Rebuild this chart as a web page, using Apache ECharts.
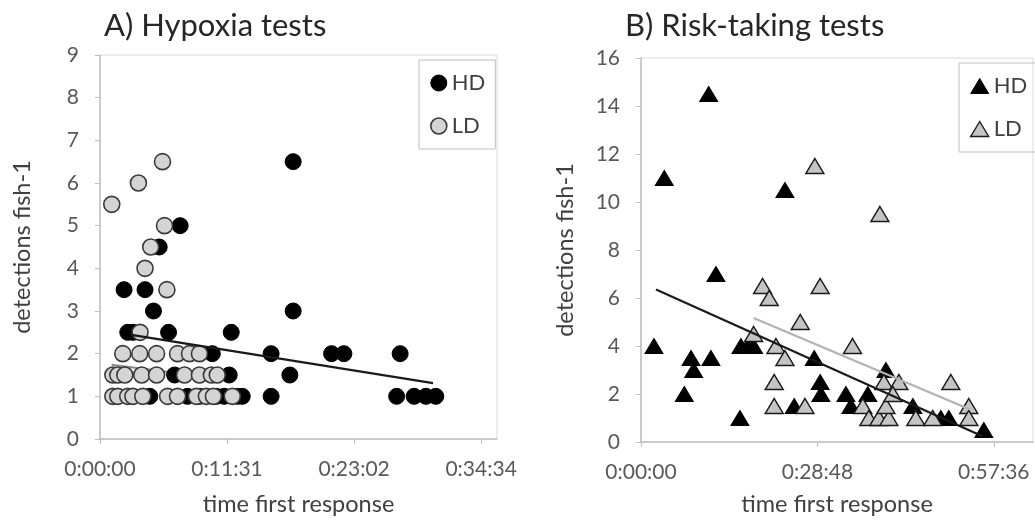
<!DOCTYPE html>
<html><head><meta charset="utf-8">
<script src="https://cdn.jsdelivr.net/npm/echarts@6/dist/echarts.min.js"></script>
<style>html,body{margin:0;padding:0;background:#fff}#c{width:1035px;height:521px}</style>
</head><body><div id="c"></div>
<script>
// time in seconds, detections per fish
const hypoxiaHD = [[1051,6.5],[1051,3],[1033,1.5],[931,2],[931,1],[714,2.5],[436,5],[322,4.5],[131,3.5],[245,3.5],[291,3],[373,2.5],[151,2.5],[180,2.5],[1260,2],[1327,2],[1633,2],[1614,1],[1709,1],[1773,1],[1827,1],[611,2],[406,1.5],[703,1.5],[271,1],[476,1],[541,1],[633,1],[676,1],[747,1],[774,1]];
const hypoxiaLD = [[64,5.5],[209,6],[340,6.5],[351,5],[276,4.5],[245,4],[364,3.5],[218,2.5],[124,2],[216,2],[308,2],[422,2],[487,2],[541,2],[70,1.5],[97,1.5],[135,1.5],[227,1.5],[308,1.5],[460,1.5],[541,1.5],[606,1.5],[638,1.5],[70,1],[97,1],[151,1],[179,1],[233,1],[368,1],[422,1],[525,1],[579,1],[617,1],[720,1]];
const riskHD = [[663,14.5],[228,11],[1410,10.5],[734,7],[127,4],[490,3.5],[516,3],[685,3.5],[424,2],[969,1],[979,4],[1045,4],[1103,4],[1697,3.5],[1755,2.5],[1762,2],[1501,1.5],[2007,2],[2056,1.5],[2222,2],[2399,3],[2663,1.5],[2937,1],[3015,1],[3358,0.5]];
const riskLD = [[1703,11.5],[2340,9.5],[1755,6.5],[1191,6.5],[1256,6],[1560,5],[2072,4],[1103,4.5],[1322,4],[1410,3.5],[1305,2.5],[1305,1.5],[1606,1.5],[2173,1.5],[2232,1],[2330,1],[2428,1],[2399,1.5],[2379,2.5],[2526,2.5],[2467,2],[2692,1],[2858,1],[3035,2.5],[3211,1.5],[3211,1]];
const trendHypoxiaHD = [[171,2.44],[1812,1.31]];
const trendHypoxiaLD = [[63,1.74],[720,1.38]];
const trendRiskHD = [[147,6.35],[3345,0.24]];
const trendRiskLD = [[1103,5.17],[3224,1.35]];
const titles = ['A) Hypoxia tests','B) Risk-taking tests'];
const groups = ['HD','LD'];
const xName = 'time first response';
const yName = 'detections fish-1';

const FONT = 'Lato';
const pad = n => (n < 10 ? '0' : '') + n;
function fmt(interval){
  return function(v){
    const k = v / interval;
    if (Math.abs(k - Math.round(k)) > 1e-6) return '';
    const s = Math.round(v);
    return Math.floor(s/3600) + ':' + pad(Math.floor(s%3600/60)) + ':' + pad(s%60);
  };
}
const hdStyle = {color:'#000', borderColor:'#000', borderWidth:1, opacity:1};
const ldStyle = {color:'#d4d4d4', borderColor:'#3a3a3a', borderWidth:1.6, opacity:1};
const ldTriStyle = {color:'#c4c4c4', borderColor:'#1a1a1a', borderWidth:1.4, opacity:1};

function xAxis(gi, max, interval, gap){
  return {type:'value', gridIndex:gi, min:0, max:max, interval:interval,
    name:xName, nameLocation:'middle', nameGap:gap,
    nameTextStyle:{fontFamily:FONT, fontSize:23.5, color:'#404040'},
    axisLine:{show:true, lineStyle:{color:'#bfbfbf', width:1.5}},
    axisTick:{show:true, length:5, lineStyle:{color:'#bfbfbf'}},
    splitLine:{show:false},
    axisLabel:{formatter:fmt(interval), margin:20, fontFamily:FONT, fontSize:21, color:'#595959', showMaxLabel:false}};
}
function yAxis(gi, max, interval, gap){
  return {type:'value', gridIndex:gi, min:0, max:max, interval:interval,
    name:yName, nameLocation:'middle', nameGap:gap, nameRotate:90,
    nameTextStyle:{fontFamily:FONT, fontSize:23.5, color:'#404040'},
    axisLine:{show:true, lineStyle:{color:'#bfbfbf', width:1.5}},
    axisTick:{show:true, length:5, lineStyle:{color:'#bfbfbf'}},
    splitLine:{show:false},
    axisLabel:{margin:21, fontFamily:FONT, fontSize:21, color:'#595959'}};
}
function trend(data, gi, color, z){
  return {type:'line', xAxisIndex:gi, yAxisIndex:gi, data:data, symbol:'none', silent:true,
    lineStyle:{color:color, width:2.2}, z:z};
}

const chart = echarts.init(document.getElementById('c'), null, {renderer:'canvas'});
chart.setOption({
  animation:false,
  backgroundColor:'#fff',
  title:[
    {text:titles[0], left:99, top:5, textStyle:{fontFamily:FONT, fontSize:31, fontWeight:'normal', color:'#262626'}},
    {text:titles[1], left:620, top:5, textStyle:{fontFamily:FONT, fontSize:31, fontWeight:'normal', color:'#262626'}}
  ],
  grid:[
    {left:100, top:55, width:397, height:384, show:true, borderColor:'#d9d9d9', borderWidth:1},
    {left:641, top:58, width:392, height:384, show:true, borderColor:'#d9d9d9', borderWidth:1}
  ],
  xAxis:[xAxis(0, 2160, 691.2, 53), xAxis(1, 3840, 1728, 50)],
  yAxis:[yAxis(0, 9, 1, 66), yAxis(1, 16, 2, 64)],
  legend:[
    {left:419, top:60, orient:'vertical', padding:[12,10,12,11], itemGap:21, itemWidth:16, itemHeight:16,
     borderColor:'#bfbfbf', borderWidth:1, selectedMode:false,
     textStyle:{fontFamily:FONT, fontSize:22, color:'#404040'},
     data:[{name:groups[0], icon:'circle', itemStyle:hdStyle},{name:groups[1], icon:'circle', itemStyle:ldStyle}]},
    {left:959, top:63, orient:'vertical', padding:[12,10,12,11], itemGap:21, itemWidth:18, itemHeight:15,
     borderColor:'#bfbfbf', borderWidth:1, selectedMode:false,
     textStyle:{fontFamily:FONT, fontSize:22, color:'#404040'},
     data:[{name:groups[0], icon:'triangle', itemStyle:hdStyle},{name:groups[1], icon:'triangle', itemStyle:ldTriStyle}]}
  ],
  series:[
    {name:groups[0], type:'scatter', xAxisIndex:0, yAxisIndex:0, data:hypoxiaHD, symbol:'circle', symbolSize:16, itemStyle:hdStyle, z:2},
    trend(trendHypoxiaLD, 0, '#8c8c8c', 2),
    {name:groups[1], type:'scatter', xAxisIndex:0, yAxisIndex:0, data:hypoxiaLD, symbol:'circle', symbolSize:16, itemStyle:ldStyle, z:3},
    trend(trendHypoxiaHD, 0, '#1a1a1a', 5),
    {name:groups[0], type:'scatter', xAxisIndex:1, yAxisIndex:1, data:riskHD, symbol:'triangle', symbolSize:[18,15], itemStyle:hdStyle, z:2},
    {name:groups[1], type:'scatter', xAxisIndex:1, yAxisIndex:1, data:riskLD, symbol:'triangle', symbolSize:[18,15], itemStyle:ldTriStyle, z:3},
    trend(trendRiskLD, 1, '#b3b3b3', 5),
    trend(trendRiskHD, 1, '#1a1a1a', 5)
  ]
});
</script></body></html>
